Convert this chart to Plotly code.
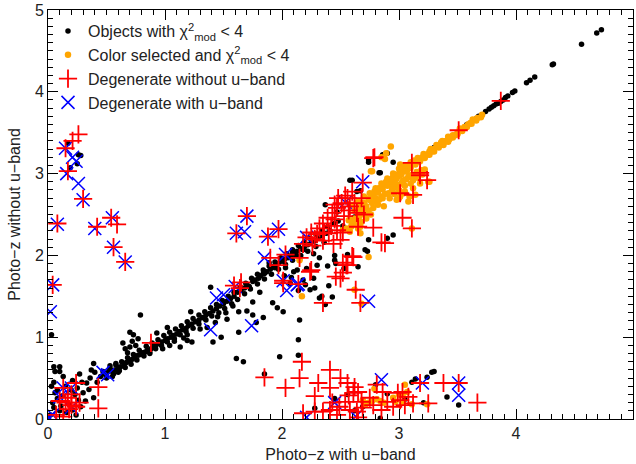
import plotly.graph_objects as go

# ---------------- data ----------------
# Objects with chi2_mod < 4 (black)
black_x = [4.73, 4.69, 4.56, 4.32, 4.31, 4.16, 4.12, 4.09, 3.99, 3.97, 3.93, 3.91, 3.89, 3.87, 3.85, 3.83, 3.81, 3.79, 3.77, 3.74, 3.68, 3.66, 3.58, 3.52, 3.43, 3.36, 3.30,
           2.90, 2.86, 2.95, 2.84, 2.74, 2.58, 2.64, 2.67, 2.83, 2.74, 2.60, 2.37, 2.47, 2.74, 2.95, 2.73, 2.65, 2.45, 2.45, 2.90, 2.71, 2.48, 2.52, 2.62, 2.70,
           1.62, 1.65, 1.68, 1.70, 1.72, 1.75, 1.77, 1.80, 1.82, 1.85, 1.87, 1.90, 1.92, 1.95, 1.97, 2.00, 2.02, 2.05, 2.08, 2.10, 2.13, 2.16, 2.19, 2.22, 2.25, 2.28, 2.31, 2.34, 2.38, 2.41,
           1.94, 2.03, 2.13, 2.21, 2.27, 2.07, 2.14, 2.24, 2.32, 2.15, 2.43, 2.01, 1.96, 1.75, 1.70, 1.84, 1.78, 1.63, 2.09, 2.12, 2.18, 2.27, 2.30, 2.18, 2.34, 2.46, 2.56, 2.53, 2.39, 2.32, 2.15, 2.02, 2.10, 2.08, 1.92, 1.75, 1.81, 1.84, 1.89, 2.20, 2.28, 2.40, 2.37,
           0.45, 0.48, 0.50, 0.52, 0.55, 0.57, 0.60, 0.62, 0.65, 0.67, 0.70, 0.72, 0.74, 0.77, 0.79, 0.81, 0.83, 0.85, 0.88, 0.90, 0.92, 0.95, 0.97, 1.00, 1.02, 1.05, 1.07, 1.10, 1.12, 1.15, 1.18, 1.20, 1.23, 1.26, 1.29, 1.32, 1.35, 1.38, 1.41, 1.44, 1.47, 1.50, 1.53, 1.56, 1.59,
           0.47, 0.53, 0.58, 0.63, 0.68, 0.73, 0.78, 0.84, 0.89, 0.94, 0.99, 1.04, 1.09, 1.14, 1.19, 1.24, 1.29, 1.34, 1.39, 1.44, 1.49, 1.54, 1.59, 1.64, 1.69, 1.74, 1.79, 1.84, 1.89, 1.94, 1.99, 2.04, 2.09, 2.14, 2.19, 2.24, 2.29, 2.34, 2.39, 2.44,
           0.50, 0.56, 0.61, 0.66, 0.71, 0.76, 0.82, 0.87, 0.92, 0.97, 1.02, 1.08, 1.13, 1.18, 1.24, 1.29, 1.35, 1.40, 1.46, 1.51, 1.57, 1.62, 1.68, 1.73, 1.79, 1.85, 1.91, 1.97, 2.03, 2.09, 2.16, 2.22, 2.29, 2.36,
           0.68, 0.70, 0.72, 0.70, 0.73, 0.79, 0.64, 0.66, 0.75, 0.77, 0.93, 1.02, 1.19, 1.16, 1.23, 1.13, 1.22, 1.39, 1.34, 1.43, 1.48, 1.53, 1.63, 1.61, 1.67, 1.98, 2.14, 2.14, 1.41, 1.19, 1.30, 1.36, 1.52, 1.58, 1.45, 0.98, 1.04, 1.08, 0.87, 0.60, 0.55, 0.40, 0.53, 0.58,
           0.03, 0.05, 0.10, 0.06, 0.10, 0.05, 0.08, 0.04, 0.05, 0.20, 0.25, 0.29, 0.33, 0.36, 0.39, 0.21, 0.26, 0.21, 0.16, 0.39, 0.30, 0.37, 0.12, 0.15, 0.18, 0.10, 0.02, 0.13, 0.23, 0.32, 0.28, 0.35, 0.42, 0.08, 0.06, 0.27, 0.03, 0.11, 0.24,
           3.11, 3.14, 3.24, 3.28, 3.30, 3.41, 3.51, 3.21, 2.28, 2.69, 2.84, 2.80, 2.56, 2.45, 2.90, 3.05, 2.62, 1.85,
           0.17, 0.26, 0.28, 0.25, 0.19]
black_y = [4.76, 4.72, 4.58, 4.34, 4.33, 4.18, 4.14, 4.11, 4.01, 3.99, 3.95, 3.93, 3.90, 3.88, 3.86, 3.85, 3.83, 3.81, 3.79, 3.76, 3.70, 3.67, 3.60, 3.54, 3.45, 3.38, 3.32,
           3.25, 3.23, 3.14, 3.01, 3.17, 2.92, 2.78, 2.79, 3.01, 3.14, 2.92, 2.62, 2.53, 2.19, 2.25, 2.05, 1.86, 2.00, 1.94, 2.21, 2.07, 2.42, 2.36, 2.47, 2.58,
           1.55, 1.57, 1.60, 1.64, 1.62, 1.68, 1.70, 1.72, 1.75, 1.78, 1.80, 1.83, 1.86, 1.88, 1.90, 1.93, 1.95, 1.97, 2.00, 2.03, 2.05, 2.08, 2.10, 2.13, 2.16, 2.18, 2.21, 2.24, 2.27, 2.30,
           1.85, 1.85, 1.82, 1.84, 1.72, 1.66, 1.57, 1.58, 1.48, 1.21, 1.49, 1.31, 1.36, 1.27, 1.32, 1.24, 1.18, 1.31, 2.04, 2.00, 2.07, 2.02, 1.88, 1.70, 1.50, 1.90, 2.01, 1.84, 1.87, 1.97, 1.95, 1.75, 1.80, 1.73, 1.42, 1.43, 1.55, 1.78, 1.91, 1.64, 1.60, 1.63, 1.40,
           0.52, 0.55, 0.56, 0.58, 0.59, 0.60, 0.63, 0.64, 0.67, 0.69, 0.71, 0.73, 0.76, 0.78, 0.79, 0.81, 0.82, 0.84, 0.86, 0.88, 0.90, 0.92, 0.94, 0.96, 0.98, 1.00, 1.02, 1.04, 1.07, 1.09, 1.11, 1.14, 1.16, 1.19, 1.21, 1.24, 1.27, 1.29, 1.32, 1.35, 1.38, 1.41, 1.44, 1.47, 1.50,
           0.58, 0.62, 0.66, 0.70, 0.75, 0.79, 0.84, 0.89, 0.93, 0.97, 1.02, 1.06, 1.10, 1.14, 1.19, 1.23, 1.27, 1.31, 1.36, 1.40, 1.45, 1.50, 1.55, 1.60, 1.66, 1.72, 1.77, 1.82, 1.87, 1.92, 1.97, 2.02, 2.07, 2.12, 2.16, 2.21, 2.26, 2.30, 2.35, 2.39,
           0.50, 0.55, 0.59, 0.63, 0.67, 0.72, 0.77, 0.82, 0.86, 0.90, 0.94, 0.98, 1.03, 1.07, 1.11, 1.16, 1.21, 1.26, 1.30, 1.35, 1.41, 1.46, 1.53, 1.59, 1.65, 1.71, 1.77, 1.83, 1.89, 1.94, 2.00, 2.05, 2.11, 2.16,
           0.81, 0.88, 0.95, 1.06, 1.03, 1.27, 0.93, 0.86, 0.90, 0.98, 1.05, 1.12, 1.03, 0.99, 0.94, 0.88, 1.31, 1.61, 1.23, 1.18, 1.00, 1.22, 1.06, 0.74, 0.70, 0.76, 0.78, 0.97, 0.94, 0.96, 1.10, 1.12, 1.30, 1.38, 1.25, 0.86, 0.90, 0.95, 0.80, 0.57, 0.52, 0.57, 0.65, 0.68,
           1.03, 0.64, 0.64, 0.58, 0.58, 0.45, 0.35, 0.20, 0.14, 0.35, 0.38, 0.45, 0.44, 0.50, 0.68, 0.47, 0.23, 0.11, 0.08, 0.26, 0.32, 0.60, 0.28, 0.40, 0.18, 0.10, 0.05, 0.52, 0.30, 0.22, 0.15, 0.36, 0.45, 0.25, 0.32, 0.55, 0.40, 0.16, 0.05,
           0.45, 0.49, 0.51, 0.57, 0.58, 0.27, 0.17, 0.20, 0.13, 0.15, 0.01, 0.42, 0.30, 0.25, 0.31, 0.24, 0.10, 0.55,
           3.37, 3.23, 3.22, 3.12, 3.07]

# Color selected and chi2_mod < 4 (orange)
orange_x = [3.15, 3.18, 3.20, 3.23, 3.25, 3.28, 3.30, 3.33, 3.35, 3.38, 3.40, 3.43, 3.45, 3.48, 3.50, 3.53, 3.56, 3.59, 3.61, 3.63, 3.67, 3.71, 3.52, 3.46, 3.36, 3.26, 3.13, 3.10, 3.07, 3.04, 3.01, 2.98, 2.95, 3.05, 3.00, 2.92, 2.89, 2.86, 2.83,
            2.52, 2.58, 2.67, 2.72, 2.78, 2.84, 2.92, 2.98, 3.07, 3.12, 3.04, 3.09, 3.14, 3.01, 3.08, 2.98, 2.89, 2.72, 2.65, 2.58, 2.57, 2.68, 2.75, 2.81, 2.85, 2.91, 2.95, 2.99, 3.25, 3.19, 3.14, 3.09, 2.87, 2.67,
            2.77, 2.85, 2.93, 2.89, 3.11, 2.74, 2.68, 2.62, 2.17, 2.15,
            2.94, 2.97, 3.02, 3.06, 2.88, 2.80, 2.77, 2.74, 2.70, 2.62, 2.60, 2.55, 2.79, 2.93, 2.76, 2.88, 3.26, 3.01, 3.06, 3.19, 3.08, 3.03, 2.98,
            2.62, 2.66, 2.70, 2.74, 2.78, 2.82, 2.86, 2.90, 2.94, 2.98, 3.02, 3.06, 3.10, 3.14, 3.18, 3.22, 3.26, 3.30, 3.34, 3.38, 3.42, 3.46, 3.50, 3.54, 3.58, 3.62, 3.66, 3.70,
            2.60, 2.65, 2.70, 2.75, 2.80, 2.85, 2.90, 2.95, 3.00, 3.05, 3.10, 3.16, 3.21, 3.27, 3.32, 3.37, 3.42,
            3.00, 3.05, 3.10, 3.12, 3.16, 3.20, 3.22, 3.15, 3.10, 3.04, 2.97, 2.92, 2.96, 3.00, 3.05, 3.12, 3.18, 2.86, 2.82, 2.78, 2.83, 2.66, 2.71, 2.63, 2.59, 2.67, 2.72, 2.76,
            2.79, 3.05, 3.07, 3.03, 2.95, 2.97, 2.87, 2.84, 2.77, 2.74, 2.69, 2.71, 2.81, 3.03, 3.11, 3.24, 3.00]
orange_y = [3.14, 3.17, 3.20, 3.22, 3.24, 3.27, 3.30, 3.33, 3.35, 3.37, 3.40, 3.42, 3.45, 3.47, 3.50, 3.53, 3.57, 3.60, 3.62, 3.66, 3.68, 3.72, 3.55, 3.47, 3.38, 3.27, 3.16, 3.11, 3.08, 3.05, 3.02, 2.99, 2.96, 3.03, 2.97, 2.92, 2.90, 2.86, 2.82,
            2.31, 2.43, 2.56, 2.60, 2.72, 2.82, 2.92, 2.96, 3.04, 3.13, 2.76, 2.72, 2.74, 2.72, 2.66, 2.68, 2.88, 2.51, 2.33, 2.29, 2.43, 2.41, 2.70, 2.66, 2.72, 2.76, 2.82, 2.86, 2.90, 3.01, 2.98, 2.96, 2.60, 2.27,
            3.03, 3.20, 3.33, 3.25, 2.33, 1.98, 1.41, 1.58, 1.50, 1.94,
            2.80, 2.84, 2.88, 2.93, 2.75, 2.70, 2.64, 2.55, 2.50, 2.45, 2.38, 2.33, 2.78, 2.86, 3.03, 3.18, 2.90, 3.11, 3.10, 3.04, 2.96, 2.90, 2.83,
            2.55, 2.60, 2.64, 2.68, 2.73, 2.77, 2.81, 2.85, 2.90, 2.94, 2.99, 3.03, 3.07, 3.11, 3.15, 3.19, 3.23, 3.27, 3.32, 3.35, 3.39, 3.44, 3.48, 3.52, 3.57, 3.61, 3.65, 3.69,
            2.62, 2.66, 2.72, 2.76, 2.82, 2.88, 2.94, 3.00, 3.06, 3.10, 3.14, 3.19, 3.24, 3.30, 3.35, 3.40, 3.45,
            2.80, 2.85, 2.88, 2.92, 2.95, 2.99, 3.05, 3.02, 2.98, 2.92, 2.88, 2.70, 2.75, 2.70, 2.78, 2.82, 2.88, 2.70, 2.62, 2.58, 2.68, 2.48, 2.56, 2.40, 2.35, 2.35, 2.45, 2.50,
            0.37, 0.42, 0.33, 0.29, 0.26, 0.21, 0.20, 0.22, 0.22, 0.20, 0.23, 0.17, 0.24, 0.20, 0.18, 0.18, 0.30]

# Degenerate without u-band (red +)
red_x = [0.26, 0.21, 0.15, 0.17, 0.30, 0.08, 0.42, 0.54, 0.59, 0.56, 0.66, 0.04,
         1.70, 1.61, 1.88, 1.97, 2.03, 1.90, 1.97, 1.65, 1.59, 2.01, 2.14, 2.24, 2.35, 2.46, 2.52, 2.55, 2.60, 2.52, 2.63, 2.67, 2.85, 3.03, 3.11, 1.64, 0.88, 2.25, 2.01, 2.15,
         2.21, 2.25, 2.32, 2.35, 2.39, 2.43, 2.47, 2.51, 2.56, 2.50, 2.47, 2.64, 2.65, 2.78, 2.69, 2.78, 2.88, 3.18, 3.12, 3.01, 2.61, 2.56, 2.50, 2.18, 2.28, 2.36, 2.42, 2.30, 2.40, 2.45, 2.53, 2.58, 2.54, 2.60, 2.48, 2.45, 2.57, 2.62, 2.68, 2.70, 2.35, 2.26, 2.44, 2.52,
         3.51, 3.87, 2.79, 3.18, 3.24, 3.11,
         0.13, 0.24, 0.17, 0.20, 0.15, 0.24, 0.27, 0.43, 0.43, 0.07, 0.13, 0.18, 0.20, 0.10,
         1.85, 2.03, 2.15, 2.17, 2.31, 2.41, 2.41, 2.50, 2.56, 2.62, 2.61, 2.57, 2.65, 2.81, 2.86, 2.99, 3.03, 3.08, 3.18, 3.38, 3.51, 3.67, 2.41, 2.49, 2.58, 2.64, 2.69, 2.78, 2.85, 2.90, 2.18, 2.28, 2.35, 2.43, 2.54, 2.68, 2.75, 2.95, 3.01, 3.25, 3.12, 3.05, 2.47, 2.65, 2.28]
red_y = [3.48, 3.40, 3.31, 3.03, 2.69, 2.39, 2.35, 2.46, 2.38, 2.10, 1.92, 1.64,
         2.48, 2.27, 2.23, 2.32, 2.01, 1.97, 1.88, 1.67, 1.63, 1.69, 1.65, 1.80, 1.42, 1.74, 1.79, 1.88, 1.99, 1.91, 1.58, 1.42, 2.16, 2.46, 2.33, 1.60, 0.93, 1.82, 1.66, 1.97,
         2.22, 2.28, 2.33, 2.39, 2.46, 2.52, 2.58, 2.64, 2.70, 2.19, 2.31, 2.52, 2.35, 2.34, 2.89, 3.19, 2.15, 3.01, 2.74, 2.76, 1.98, 1.88, 1.72, 2.14, 2.20, 2.28, 2.36, 2.26, 2.27, 2.44, 2.48, 2.60, 2.73, 2.78, 2.70, 2.62, 2.55, 2.64, 2.70, 2.50, 2.18, 2.12, 2.14, 2.28,
         3.53, 3.89, 3.20, 2.98, 2.92, 3.13,
         0.38, 0.44, 0.26, 0.17, 0.20, 0.15, 0.20, 0.13, 0.39, 0.05, 0.03, 0.12, 0.30, 0.22,
         0.51, 0.38, 0.50, 0.70, 0.44, 0.60, 0.38, 0.50, 0.44, 0.39, 0.32, 0.29, 0.33, 0.42, 0.33, 0.32, 0.33, 0.27, 0.44, 0.44, 0.44, 0.20, 0.11, 0.15, 0.11, 0.09, 0.14, 0.17, 0.11, 0.21, 0.07, 0.09, 0.09, 0.20, 0.21, 0.21, 0.26, 0.15, 0.23, 0.19, 0.19, 0.17, 0.05, 0.02, 0.28]

# Degenerate with u-band (blue x)
blue_x = [0.15, 0.21, 0.24, 0.16, 0.26, 0.30, 0.08, 0.40, 0.55, 0.56, 0.66, 0.04, 0.02, 0.01,
          1.70, 1.61, 1.68, 1.88, 1.97, 1.85, 2.03, 1.60, 1.50, 1.44, 2.01, 2.14, 2.04, 1.74, 1.39, 2.13, 2.74, 2.69, 2.54, 2.21,
          0.51, 0.47, 0.13, 0.20, 0.10, 0.20, 0.04,
          2.85, 3.20, 3.51, 3.51, 2.45, 2.21, 2.63]
blue_y = [3.31, 3.20, 3.15, 3.00, 2.88, 2.68, 2.38, 2.33, 2.46, 2.10, 1.92, 1.64, 1.31, 0.02,
          2.48, 2.27, 2.29, 2.23, 2.32, 1.97, 2.01, 1.62, 1.52, 1.48, 1.69, 1.65, 1.57, 1.14, 1.09, 1.64, 1.44, 2.90, 2.65, 2.22,
          0.54, 0.57, 0.38, 0.38, 0.27, 0.14, 0.05,
          0.48, 0.44, 0.44, 0.29, 0.20, 0.02, 0.03]

labels = ["Objects with \u03c7<sup>2</sup><sub>mod</sub> &lt; 4",
          "Color selected and \u03c7<sup>2</sup><sub>mod</sub> &lt; 4",
          "Degenerate without u\u2212band",
          "Degenerate with u\u2212band"]
x_title = "Photo\u2212z with u\u2212band"
y_title = "Photo\u2212z without u\u2212band"

FONT = "Liberation Sans, Arial, Helvetica, sans-serif"

fig = go.Figure()
fig.add_trace(go.Scatter(x=black_x, y=black_y, mode="markers", name=labels[0], legendrank=1,
                         marker=dict(color="black", size=5.5, line=dict(width=0))))
fig.add_trace(go.Scatter(x=orange_x, y=orange_y, mode="markers", name=labels[1], legendrank=2,
                         marker=dict(color="#FFA500", size=6.5, line=dict(width=0))))
fig.add_trace(go.Scatter(x=blue_x, y=blue_y, mode="markers", name=labels[3], legendrank=4,
                         marker=dict(symbol="x-thin-open", color="#0000FF", size=13,
                                     line=dict(width=1.5, color="#0000FF"))))
fig.add_trace(go.Scatter(x=red_x, y=red_y, mode="markers", name=labels[2], legendrank=3,
                         marker=dict(symbol="cross-thin-open", color="#FF0000", size=13,
                                     line=dict(width=1.8, color="#FF0000"))))

axis_common = dict(range=[0, 5], dtick=1,
                   ticks="inside", ticklen=10, tickwidth=1, tickcolor="black",
                   showline=True, linecolor="black", linewidth=1,
                   mirror="allticks", showgrid=False,
                   minor=dict(ticks="inside", ticklen=5, tickwidth=1, tickcolor="black", dtick=0.1),
                   tickfont=dict(size=16, color="#222"))

fig.update_xaxes(**axis_common)
fig.update_yaxes(**axis_common)
fig.update_xaxes(title=dict(text=x_title, standoff=7, font=dict(size=16, color="#222")))
fig.update_yaxes(title=dict(text=y_title, standoff=10, font=dict(size=16, color="#222")))

fig.update_layout(
    width=636, height=464,
    margin=dict(l=48, r=3, t=10, b=45),
    plot_bgcolor="white", paper_bgcolor="white",
    font=dict(family=FONT, size=16, color="#222"),
    showlegend=True,
    legend=dict(x=0.0, y=0.99, xanchor="left", yanchor="top", bgcolor="rgba(0,0,0,0)",
                font=dict(size=16, color="#222"), itemwidth=30, tracegroupgap=0),
)

fig.write_html("out.html")
